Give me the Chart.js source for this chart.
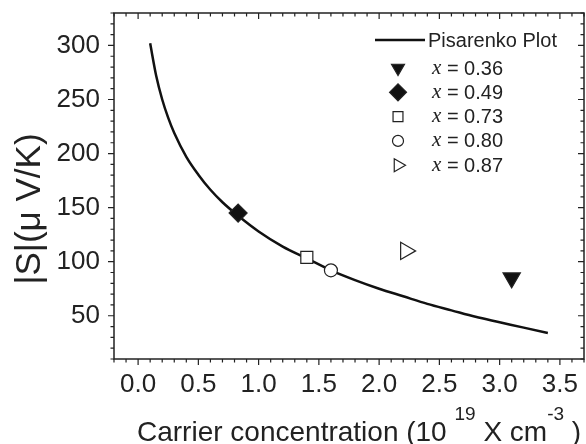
<!DOCTYPE html>
<html>
<head>
<meta charset="utf-8">
<script src="https://cdn.jsdelivr.net/npm/chart.js@4/dist/chart.umd.min.js"></script>
<style>
  html, body { margin: 0; padding: 0; background: #fff; }
  #wrap { width: 586px; height: 444px; position: relative; }
</style>
</head>
<body>
<div id="wrap"><canvas id="chart"></canvas></div>
<script>
// ---- data ----
// Pisarenko curve (carrier conc. in 1e19 cm^-3, |S| in uV/K)
const curveN = [0.10, 0.15, 0.20, 0.25, 0.30, 0.40, 0.50, 0.60, 0.70, 0.83, 1.00, 1.20, 1.40, 1.60, 1.80, 2.00, 2.20, 2.40, 2.60, 2.80, 3.00, 3.20, 3.40];
const curveS = [302, 272, 250, 233, 219, 197, 180.5, 166.5, 155, 142.5, 128, 114, 103, 92, 83, 75, 68, 61, 55, 49, 44, 39, 34];

// measured samples
const sampleLabels = ["0.36", "0.49", "0.73", "0.80", "0.87"];
const sampleN = [3.10, 0.83, 1.40, 1.60, 2.22];
const sampleS = [85, 145, 104, 92, 110];

// axis ticks
const xTickLabels = [0.0, 0.5, 1.0, 1.5, 2.0, 2.5, 3.0, 3.5];
const yTickLabels = [50, 100, 150, 200, 250, 300];

// marker look per sample
const markers = [
  { style: "triangle", rot: 180, fill: "#111", r: 10, lr: 7.5 },
  { style: "rectRot", rot: 0, fill: "#111", r: 9, lr: 8.5 },
  { style: "rect", rot: 0, fill: "#fff", r: 8.5, lr: 7 },
  { style: "circle", rot: 0, fill: "#fff", r: 6.5, lr: 5.5 },
  { style: "triangle", rot: 90, fill: "#fff", r: 10, lr: 7.5 }
];

const SANS = "'Liberation Sans', Arial, sans-serif";
const SERIF = "'Liberation Serif', 'Times New Roman', serif";
const INK = "#222";

const datasets = [{
  label: "Pisarenko Plot",
  data: curveN.map((n, i) => ({ x: n, y: curveS[i] })),
  showLine: true,
  borderColor: "#111",
  borderWidth: 2.5,
  pointRadius: 0,
  cubicInterpolationMode: "monotone",
  order: 10
}].concat(sampleLabels.map((lab, i) => ({
  label: "x = " + lab,
  data: [{ x: sampleN[i], y: sampleS[i] }],
  pointStyle: markers[i].style,
  rotation: markers[i].rot,
  pointRadius: markers[i].r,
  backgroundColor: markers[i].fill,
  borderColor: "#222",
  borderWidth: 1.2,
  order: i
})));

function drawMarker(ctx, m, x, y, r) {
  ctx.fillStyle = m.fill;
  ctx.strokeStyle = "#222";
  ctx.lineWidth = 1.2;
  if (Chart.helpers && Chart.helpers.drawPoint) {
    Chart.helpers.drawPoint(ctx, { pointStyle: m.style, rotation: m.rot, radius: r, borderWidth: 1.2 }, x, y);
  } else {
    ctx.beginPath(); ctx.arc(x, y, r, 0, Math.PI * 2); ctx.fill(); ctx.stroke();
  }
}

const decor = {
  id: "decor",
  afterDraw(chart) {
    const { ctx, chartArea: a, scales: { x, y } } = chart;
    ctx.save();
    // frame
    ctx.strokeStyle = INK;
    ctx.lineWidth = 1.5;
    ctx.strokeRect(a.left, a.top, a.right - a.left, a.bottom - a.top);

    // ticks: bottom/left point out, top/right point in
    ctx.lineWidth = 1.2;
    ctx.beginPath();
    for (let i = -2; i <= 37; i++) {
      const px = x.getPixelForValue(i / 10);
      const len = i % 5 === 0 ? 6 : 3.5;
      ctx.moveTo(px, a.bottom); ctx.lineTo(px, a.bottom + len);
      ctx.moveTo(px, a.top); ctx.lineTo(px, a.top + len);
    }
    for (let v = 10; v <= 330; v += 10) {
      const py = y.getPixelForValue(v);
      const len = v % 50 === 0 ? 6 : 3.5;
      ctx.moveTo(a.left - len, py); ctx.lineTo(a.left, py);
      ctx.moveTo(a.right - len, py); ctx.lineTo(a.right, py);
    }
    ctx.stroke();

    // y title
    ctx.fillStyle = INK;
    ctx.save();
    ctx.translate(40, 209);
    ctx.rotate(-Math.PI / 2);
    ctx.font = "35px " + SANS;
    ctx.textAlign = "center";
    ctx.textBaseline = "alphabetic";
    ctx.fillText("|S|(\u03bc V/K)", 0, 0);
    ctx.restore();

    // x title with superscripts
    const parts = [
      ["Carrier concentration (10 ", false],
      ["19", true],
      [" X cm", false],
      ["-3", true],
      [" )", false]
    ];
    let tx = 137;
    ctx.textAlign = "left";
    ctx.textBaseline = "alphabetic";
    parts.forEach(([t, sup]) => {
      ctx.font = (sup ? "19px " : "28px ") + SANS;
      ctx.fillText(t, tx, sup ? 420 : 441);
      tx += ctx.measureText(t).width;
    });

    // legend
    ctx.strokeStyle = "#111";
    ctx.lineWidth = 2.5;
    ctx.beginPath(); ctx.moveTo(375, 40); ctx.lineTo(425, 40); ctx.stroke();
    ctx.font = "20px " + SANS;
    ctx.textBaseline = "middle";
    ctx.fillText("Pisarenko Plot", 428, 41);
    sampleLabels.forEach((lab, i) => {
      const ly = 68 + i * 24.3;
      drawMarker(ctx, markers[i], 398, ly, markers[i].lr);
      ctx.fillStyle = INK;
      ctx.font = "italic 21px " + SERIF;
      ctx.fillText("x", 432, ly);
      const w = ctx.measureText("x").width;
      ctx.font = "20px " + SANS;
      ctx.fillText(" = " + lab, 432 + w, ly + 1);
    });
    ctx.restore();
  }
};

new Chart(document.getElementById("chart"), {
  type: "scatter",
  data: { datasets },
  options: {
    responsive: true,
    maintainAspectRatio: false,
    animation: false,
    layout: { autoPadding: false, padding: { top: 13, right: 2, left: 0, bottom: 0 } },
    plugins: { legend: { display: false }, tooltip: { enabled: false } },
    scales: {
      x: {
        type: "linear",
        min: -0.2,
        max: 3.7,
        afterBuildTicks: s => { s.ticks = xTickLabels.map(v => ({ value: v })); },
        afterFit: s => { s.height = 85; s.paddingLeft = 0; s.paddingRight = 0; },
        grid: { display: false, drawTicks: false },
        border: { display: false },
        ticks: {
          padding: 10,
          color: INK,
          font: { family: SANS, size: 26 },
          callback: v => Number(v).toFixed(1),
          maxRotation: 0
        }
      },
      y: {
        type: "linear",
        min: 10,
        max: 330,
        afterBuildTicks: s => { s.ticks = yTickLabels.map(v => ({ value: v })); },
        afterFit: s => { s.width = 114; s.paddingTop = 0; s.paddingBottom = 0; },
        grid: { display: false, drawTicks: false },
        border: { display: false },
        ticks: {
          padding: 14,
          color: INK,
          font: { family: SANS, size: 26 }
        }
      }
    }
  },
  plugins: [decor]
});
</script>
</body>
</html>
